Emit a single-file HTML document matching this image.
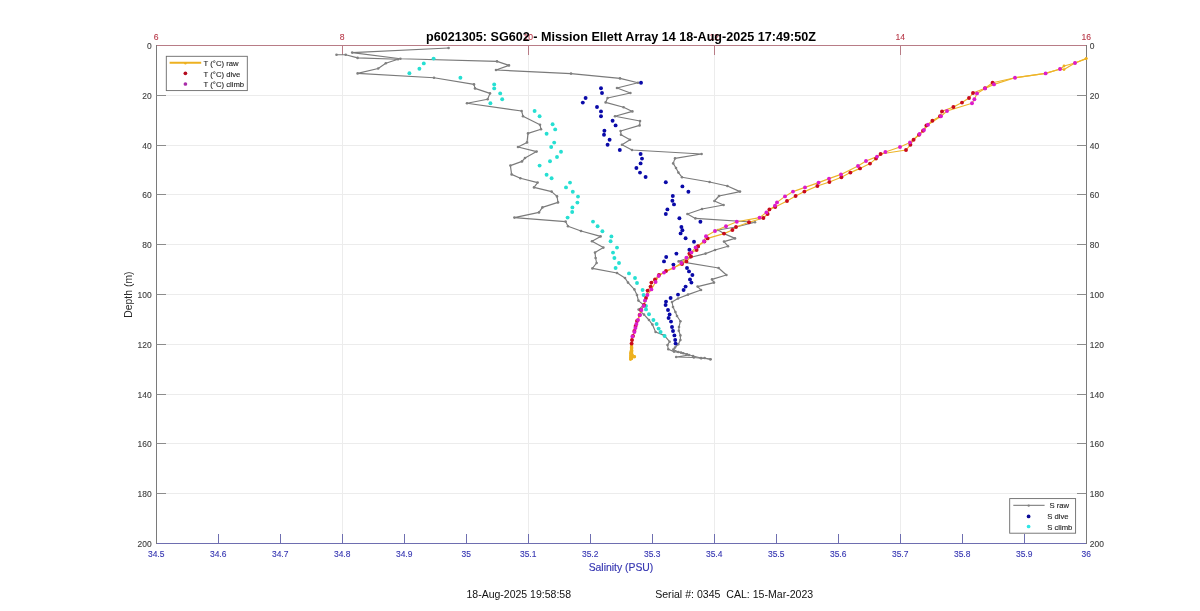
<!DOCTYPE html><html><head><meta charset="utf-8"><title>p6021305</title><style>html,body{margin:0;padding:0;background:#fff}svg{display:block}text{font-family:"Liberation Sans",Arial,sans-serif}</style></head><body>
<svg width="1200" height="611" viewBox="0 0 1200 611">
<rect width="1200" height="611" fill="#fff"/>
<g stroke="#ececec" stroke-width="1"><line x1="342.5" y1="45.5" x2="342.5" y2="543.5"/><line x1="528.5" y1="45.5" x2="528.5" y2="543.5"/><line x1="714.5" y1="45.5" x2="714.5" y2="543.5"/><line x1="900.5" y1="45.5" x2="900.5" y2="543.5"/><line x1="156.5" y1="95.5" x2="1086.5" y2="95.5"/><line x1="156.5" y1="145.5" x2="1086.5" y2="145.5"/><line x1="156.5" y1="194.5" x2="1086.5" y2="194.5"/><line x1="156.5" y1="244.5" x2="1086.5" y2="244.5"/><line x1="156.5" y1="294.5" x2="1086.5" y2="294.5"/><line x1="156.5" y1="344.5" x2="1086.5" y2="344.5"/><line x1="156.5" y1="394.5" x2="1086.5" y2="394.5"/><line x1="156.5" y1="443.5" x2="1086.5" y2="443.5"/><line x1="156.5" y1="493.5" x2="1086.5" y2="493.5"/></g>
<g stroke="#6e6eb0" stroke-width="1"><line x1="156.5" y1="543.5" x2="1086.5" y2="543.5"/><line x1="218.5" y1="543.5" x2="218.5" y2="534.0"/><line x1="280.5" y1="543.5" x2="280.5" y2="534.0"/><line x1="342.5" y1="543.5" x2="342.5" y2="534.0"/><line x1="404.5" y1="543.5" x2="404.5" y2="534.0"/><line x1="466.5" y1="543.5" x2="466.5" y2="534.0"/><line x1="528.5" y1="543.5" x2="528.5" y2="534.0"/><line x1="590.5" y1="543.5" x2="590.5" y2="534.0"/><line x1="652.5" y1="543.5" x2="652.5" y2="534.0"/><line x1="714.5" y1="543.5" x2="714.5" y2="534.0"/><line x1="776.5" y1="543.5" x2="776.5" y2="534.0"/><line x1="838.5" y1="543.5" x2="838.5" y2="534.0"/><line x1="900.5" y1="543.5" x2="900.5" y2="534.0"/><line x1="962.5" y1="543.5" x2="962.5" y2="534.0"/><line x1="1024.5" y1="543.5" x2="1024.5" y2="534.0"/></g><g stroke="#b87c86" stroke-width="1"><line x1="156.5" y1="45.5" x2="1086.5" y2="45.5"/><line x1="342.5" y1="45.5" x2="342.5" y2="55.0"/><line x1="528.5" y1="45.5" x2="528.5" y2="55.0"/><line x1="714.5" y1="45.5" x2="714.5" y2="55.0"/><line x1="900.5" y1="45.5" x2="900.5" y2="55.0"/></g><g stroke="#7a7a7a" stroke-width="1" fill="none"><line x1="156.5" y1="45.0" x2="156.5" y2="544.0"/><line x1="1086.5" y1="45.0" x2="1086.5" y2="544.0"/><line x1="156.5" y1="95.5" x2="166.0" y2="95.5" stroke="#8c8c8c"/><line x1="1086.5" y1="95.5" x2="1077.0" y2="95.5" stroke="#8c8c8c"/><line x1="156.5" y1="145.5" x2="166.0" y2="145.5" stroke="#8c8c8c"/><line x1="1086.5" y1="145.5" x2="1077.0" y2="145.5" stroke="#8c8c8c"/><line x1="156.5" y1="194.5" x2="166.0" y2="194.5" stroke="#8c8c8c"/><line x1="1086.5" y1="194.5" x2="1077.0" y2="194.5" stroke="#8c8c8c"/><line x1="156.5" y1="244.5" x2="166.0" y2="244.5" stroke="#8c8c8c"/><line x1="1086.5" y1="244.5" x2="1077.0" y2="244.5" stroke="#8c8c8c"/><line x1="156.5" y1="294.5" x2="166.0" y2="294.5" stroke="#8c8c8c"/><line x1="1086.5" y1="294.5" x2="1077.0" y2="294.5" stroke="#8c8c8c"/><line x1="156.5" y1="344.5" x2="166.0" y2="344.5" stroke="#8c8c8c"/><line x1="1086.5" y1="344.5" x2="1077.0" y2="344.5" stroke="#8c8c8c"/><line x1="156.5" y1="394.5" x2="166.0" y2="394.5" stroke="#8c8c8c"/><line x1="1086.5" y1="394.5" x2="1077.0" y2="394.5" stroke="#8c8c8c"/><line x1="156.5" y1="443.5" x2="166.0" y2="443.5" stroke="#8c8c8c"/><line x1="1086.5" y1="443.5" x2="1077.0" y2="443.5" stroke="#8c8c8c"/><line x1="156.5" y1="493.5" x2="166.0" y2="493.5" stroke="#8c8c8c"/><line x1="1086.5" y1="493.5" x2="1077.0" y2="493.5" stroke="#8c8c8c"/></g>
<g font-size="9" fill="#404040" stroke="#404040" stroke-width="0.12"><text x="151.6" y="48.8" text-anchor="end" textLength="4.7" lengthAdjust="spacingAndGlyphs">0</text><text x="1089.8" y="48.8" textLength="4.7" lengthAdjust="spacingAndGlyphs">0</text><text x="151.6" y="98.8" text-anchor="end" textLength="9.4" lengthAdjust="spacingAndGlyphs">20</text><text x="1089.8" y="98.8" textLength="9.4" lengthAdjust="spacingAndGlyphs">20</text><text x="151.6" y="148.8" text-anchor="end" textLength="9.4" lengthAdjust="spacingAndGlyphs">40</text><text x="1089.8" y="148.8" textLength="9.4" lengthAdjust="spacingAndGlyphs">40</text><text x="151.6" y="197.8" text-anchor="end" textLength="9.4" lengthAdjust="spacingAndGlyphs">60</text><text x="1089.8" y="197.8" textLength="9.4" lengthAdjust="spacingAndGlyphs">60</text><text x="151.6" y="247.8" text-anchor="end" textLength="9.4" lengthAdjust="spacingAndGlyphs">80</text><text x="1089.8" y="247.8" textLength="9.4" lengthAdjust="spacingAndGlyphs">80</text><text x="151.6" y="297.8" text-anchor="end" textLength="14.1" lengthAdjust="spacingAndGlyphs">100</text><text x="1089.8" y="297.8" textLength="14.1" lengthAdjust="spacingAndGlyphs">100</text><text x="151.6" y="347.8" text-anchor="end" textLength="14.1" lengthAdjust="spacingAndGlyphs">120</text><text x="1089.8" y="347.8" textLength="14.1" lengthAdjust="spacingAndGlyphs">120</text><text x="151.6" y="397.8" text-anchor="end" textLength="14.1" lengthAdjust="spacingAndGlyphs">140</text><text x="1089.8" y="397.8" textLength="14.1" lengthAdjust="spacingAndGlyphs">140</text><text x="151.6" y="446.8" text-anchor="end" textLength="14.1" lengthAdjust="spacingAndGlyphs">160</text><text x="1089.8" y="446.8" textLength="14.1" lengthAdjust="spacingAndGlyphs">160</text><text x="151.6" y="496.8" text-anchor="end" textLength="14.1" lengthAdjust="spacingAndGlyphs">180</text><text x="1089.8" y="496.8" textLength="14.1" lengthAdjust="spacingAndGlyphs">180</text><text x="151.6" y="546.8" text-anchor="end" textLength="14.1" lengthAdjust="spacingAndGlyphs">200</text><text x="1089.8" y="546.8" textLength="14.1" lengthAdjust="spacingAndGlyphs">200</text></g><g font-size="9" fill="#3636b2" stroke="#3636b2" stroke-width="0.12" text-anchor="middle"><text x="156.2" y="556.8" textLength="16.5" lengthAdjust="spacingAndGlyphs">34.5</text><text x="218.2" y="556.8" textLength="16.5" lengthAdjust="spacingAndGlyphs">34.6</text><text x="280.2" y="556.8" textLength="16.5" lengthAdjust="spacingAndGlyphs">34.7</text><text x="342.2" y="556.8" textLength="16.5" lengthAdjust="spacingAndGlyphs">34.8</text><text x="404.2" y="556.8" textLength="16.5" lengthAdjust="spacingAndGlyphs">34.9</text><text x="466.2" y="556.8" textLength="9.4" lengthAdjust="spacingAndGlyphs">35</text><text x="528.2" y="556.8" textLength="16.5" lengthAdjust="spacingAndGlyphs">35.1</text><text x="590.2" y="556.8" textLength="16.5" lengthAdjust="spacingAndGlyphs">35.2</text><text x="652.2" y="556.8" textLength="16.5" lengthAdjust="spacingAndGlyphs">35.3</text><text x="714.2" y="556.8" textLength="16.5" lengthAdjust="spacingAndGlyphs">35.4</text><text x="776.2" y="556.8" textLength="16.5" lengthAdjust="spacingAndGlyphs">35.5</text><text x="838.2" y="556.8" textLength="16.5" lengthAdjust="spacingAndGlyphs">35.6</text><text x="900.2" y="556.8" textLength="16.5" lengthAdjust="spacingAndGlyphs">35.7</text><text x="962.2" y="556.8" textLength="16.5" lengthAdjust="spacingAndGlyphs">35.8</text><text x="1024.2" y="556.8" textLength="16.5" lengthAdjust="spacingAndGlyphs">35.9</text><text x="1086.2" y="556.8" textLength="9.4" lengthAdjust="spacingAndGlyphs">36</text></g><g font-size="9.2" fill="#b83a4a" stroke="#b83a4a" stroke-width="0.12" text-anchor="middle"><text x="156.2" y="40" textLength="4.8" lengthAdjust="spacingAndGlyphs">6</text><text x="342.2" y="40" textLength="4.8" lengthAdjust="spacingAndGlyphs">8</text><text x="528.2" y="40" textLength="9.6" lengthAdjust="spacingAndGlyphs">10</text><text x="714.2" y="40" textLength="9.6" lengthAdjust="spacingAndGlyphs">12</text><text x="900.2" y="40" textLength="9.6" lengthAdjust="spacingAndGlyphs">14</text><text x="1086.2" y="40" textLength="9.6" lengthAdjust="spacingAndGlyphs">16</text></g>
<g fill="none" stroke="#7a7a7a" stroke-width="1.15" stroke-linejoin="round"><polyline points="448.6,48.0 352.2,52.6 400.4,58.8 497.0,61.4 509.0,65.4 496.0,70.0 571.0,73.6 620.0,78.4 638.0,82.8 617.0,88.0 630.4,93.0 607.6,98.0 605.6,102.4 623.6,107.2 632.4,111.4 615.0,116.2 640.0,121.0 639.6,125.4 620.6,131.0 621.0,134.8 630.0,139.8 622.0,144.8 632.0,150.0 701.6,154.0 675.0,158.4 673.2,163.4 676.0,168.0 678.4,172.6 682.0,177.2 709.6,182.0 727.4,186.0 740.0,191.6 719.0,196.0 714.4,201.0 723.6,205.0 702.0,209.0 687.4,214.0 695.4,218.4 755.0,222.2 736.0,227.0 718.0,230.0 724.0,233.6 735.0,238.4 724.0,241.6 728.0,246.2 715.0,250.0 705.6,253.6 690.0,257.5 678.6,261.4 718.6,268.0 726.4,275.0 712.0,279.4 714.0,282.6 697.6,286.6 701.0,290.0 688.0,294.6 678.0,298.5 672.0,302.0 673.0,307.0 675.4,312.0 677.0,316.0 680.4,321.2 679.0,327.0 678.8,330.8 680.4,335.4 680.4,340.0 678.3,344.2 675.0,347.5 673.3,349.6 678.3,352.0 683.3,353.3 689.0,355.0 676.2,357.0 693.8,357.5 701.2,358.3 704.6,358.0 710.4,359.3"/><polyline points="336.5,54.7 345.7,54.7 357.6,57.9 398.0,59.2 385.8,63.3 378.2,68.5 357.6,73.4 434.0,77.8 474.0,84.4 475.0,88.4 490.0,93.4 487.6,99.2 467.0,103.2 521.6,111.0 523.0,116.2 540.0,124.8 541.0,129.2 528.0,133.4 527.0,142.4 518.0,147.0 536.6,151.6 525.0,158.0 522.0,161.4 510.4,165.6 511.6,174.4 520.4,178.2 537.6,182.6 534.0,187.4 551.6,191.6 557.0,196.4 558.0,202.4 542.4,207.4 539.0,212.4 514.4,217.6 565.6,221.6 568.0,226.2 581.0,231.0 600.6,236.4 592.0,241.2 603.4,247.6 595.0,252.6 595.6,258.0 596.6,263.0 592.4,268.4 617.0,273.0 625.0,278.0 628.0,282.6 634.4,289.4 637.0,295.0 638.4,300.6 643.6,305.0 638.6,309.6 644.0,314.6 649.0,320.0 652.4,324.6 655.6,332.0 664.2,335.4 669.6,341.7 667.5,345.0 668.3,349.2 674.0,351.6 681.0,352.6 687.0,354.2 693.0,356.0 701.0,358.0 710.4,359.3"/></g>
<g fill="#808080"><circle cx="448.6" cy="48.0" r="1.3"/><circle cx="352.2" cy="52.6" r="1.3"/><circle cx="400.4" cy="58.8" r="1.3"/><circle cx="497.0" cy="61.4" r="1.3"/><circle cx="509.0" cy="65.4" r="1.3"/><circle cx="496.0" cy="70.0" r="1.3"/><circle cx="571.0" cy="73.6" r="1.3"/><circle cx="620.0" cy="78.4" r="1.3"/><circle cx="638.0" cy="82.8" r="1.3"/><circle cx="617.0" cy="88.0" r="1.3"/><circle cx="630.4" cy="93.0" r="1.3"/><circle cx="607.6" cy="98.0" r="1.3"/><circle cx="605.6" cy="102.4" r="1.3"/><circle cx="623.6" cy="107.2" r="1.3"/><circle cx="632.4" cy="111.4" r="1.3"/><circle cx="615.0" cy="116.2" r="1.3"/><circle cx="640.0" cy="121.0" r="1.3"/><circle cx="639.6" cy="125.4" r="1.3"/><circle cx="620.6" cy="131.0" r="1.3"/><circle cx="621.0" cy="134.8" r="1.3"/><circle cx="630.0" cy="139.8" r="1.3"/><circle cx="622.0" cy="144.8" r="1.3"/><circle cx="632.0" cy="150.0" r="1.3"/><circle cx="701.6" cy="154.0" r="1.3"/><circle cx="675.0" cy="158.4" r="1.3"/><circle cx="673.2" cy="163.4" r="1.3"/><circle cx="676.0" cy="168.0" r="1.3"/><circle cx="678.4" cy="172.6" r="1.3"/><circle cx="682.0" cy="177.2" r="1.3"/><circle cx="709.6" cy="182.0" r="1.3"/><circle cx="727.4" cy="186.0" r="1.3"/><circle cx="740.0" cy="191.6" r="1.3"/><circle cx="719.0" cy="196.0" r="1.3"/><circle cx="714.4" cy="201.0" r="1.3"/><circle cx="723.6" cy="205.0" r="1.3"/><circle cx="702.0" cy="209.0" r="1.3"/><circle cx="687.4" cy="214.0" r="1.3"/><circle cx="695.4" cy="218.4" r="1.3"/><circle cx="755.0" cy="222.2" r="1.3"/><circle cx="736.0" cy="227.0" r="1.3"/><circle cx="718.0" cy="230.0" r="1.3"/><circle cx="724.0" cy="233.6" r="1.3"/><circle cx="735.0" cy="238.4" r="1.3"/><circle cx="724.0" cy="241.6" r="1.3"/><circle cx="728.0" cy="246.2" r="1.3"/><circle cx="715.0" cy="250.0" r="1.3"/><circle cx="705.6" cy="253.6" r="1.3"/><circle cx="690.0" cy="257.5" r="1.3"/><circle cx="678.6" cy="261.4" r="1.3"/><circle cx="718.6" cy="268.0" r="1.3"/><circle cx="726.4" cy="275.0" r="1.3"/><circle cx="712.0" cy="279.4" r="1.3"/><circle cx="714.0" cy="282.6" r="1.3"/><circle cx="697.6" cy="286.6" r="1.3"/><circle cx="701.0" cy="290.0" r="1.3"/><circle cx="688.0" cy="294.6" r="1.3"/><circle cx="678.0" cy="298.5" r="1.3"/><circle cx="672.0" cy="302.0" r="1.3"/><circle cx="673.0" cy="307.0" r="1.3"/><circle cx="675.4" cy="312.0" r="1.3"/><circle cx="677.0" cy="316.0" r="1.3"/><circle cx="680.4" cy="321.2" r="1.3"/><circle cx="679.0" cy="327.0" r="1.3"/><circle cx="678.8" cy="330.8" r="1.3"/><circle cx="680.4" cy="335.4" r="1.3"/><circle cx="680.4" cy="340.0" r="1.3"/><circle cx="678.3" cy="344.2" r="1.3"/><circle cx="675.0" cy="347.5" r="1.3"/><circle cx="673.3" cy="349.6" r="1.3"/><circle cx="678.3" cy="352.0" r="1.3"/><circle cx="683.3" cy="353.3" r="1.3"/><circle cx="689.0" cy="355.0" r="1.3"/><circle cx="676.2" cy="357.0" r="1.3"/><circle cx="693.8" cy="357.5" r="1.3"/><circle cx="701.2" cy="358.3" r="1.3"/><circle cx="704.6" cy="358.0" r="1.3"/><circle cx="710.4" cy="359.3" r="1.3"/><circle cx="336.5" cy="54.7" r="1.3"/><circle cx="345.7" cy="54.7" r="1.3"/><circle cx="357.6" cy="57.9" r="1.3"/><circle cx="398.0" cy="59.2" r="1.3"/><circle cx="385.8" cy="63.3" r="1.3"/><circle cx="378.2" cy="68.5" r="1.3"/><circle cx="357.6" cy="73.4" r="1.3"/><circle cx="434.0" cy="77.8" r="1.3"/><circle cx="474.0" cy="84.4" r="1.3"/><circle cx="475.0" cy="88.4" r="1.3"/><circle cx="490.0" cy="93.4" r="1.3"/><circle cx="487.6" cy="99.2" r="1.3"/><circle cx="467.0" cy="103.2" r="1.3"/><circle cx="521.6" cy="111.0" r="1.3"/><circle cx="523.0" cy="116.2" r="1.3"/><circle cx="540.0" cy="124.8" r="1.3"/><circle cx="541.0" cy="129.2" r="1.3"/><circle cx="528.0" cy="133.4" r="1.3"/><circle cx="527.0" cy="142.4" r="1.3"/><circle cx="518.0" cy="147.0" r="1.3"/><circle cx="536.6" cy="151.6" r="1.3"/><circle cx="525.0" cy="158.0" r="1.3"/><circle cx="522.0" cy="161.4" r="1.3"/><circle cx="510.4" cy="165.6" r="1.3"/><circle cx="511.6" cy="174.4" r="1.3"/><circle cx="520.4" cy="178.2" r="1.3"/><circle cx="537.6" cy="182.6" r="1.3"/><circle cx="534.0" cy="187.4" r="1.3"/><circle cx="551.6" cy="191.6" r="1.3"/><circle cx="557.0" cy="196.4" r="1.3"/><circle cx="558.0" cy="202.4" r="1.3"/><circle cx="542.4" cy="207.4" r="1.3"/><circle cx="539.0" cy="212.4" r="1.3"/><circle cx="514.4" cy="217.6" r="1.3"/><circle cx="565.6" cy="221.6" r="1.3"/><circle cx="568.0" cy="226.2" r="1.3"/><circle cx="581.0" cy="231.0" r="1.3"/><circle cx="600.6" cy="236.4" r="1.3"/><circle cx="592.0" cy="241.2" r="1.3"/><circle cx="603.4" cy="247.6" r="1.3"/><circle cx="595.0" cy="252.6" r="1.3"/><circle cx="595.6" cy="258.0" r="1.3"/><circle cx="596.6" cy="263.0" r="1.3"/><circle cx="592.4" cy="268.4" r="1.3"/><circle cx="617.0" cy="273.0" r="1.3"/><circle cx="625.0" cy="278.0" r="1.3"/><circle cx="628.0" cy="282.6" r="1.3"/><circle cx="634.4" cy="289.4" r="1.3"/><circle cx="637.0" cy="295.0" r="1.3"/><circle cx="638.4" cy="300.6" r="1.3"/><circle cx="643.6" cy="305.0" r="1.3"/><circle cx="638.6" cy="309.6" r="1.3"/><circle cx="644.0" cy="314.6" r="1.3"/><circle cx="649.0" cy="320.0" r="1.3"/><circle cx="652.4" cy="324.6" r="1.3"/><circle cx="655.6" cy="332.0" r="1.3"/><circle cx="664.2" cy="335.4" r="1.3"/><circle cx="669.6" cy="341.7" r="1.3"/><circle cx="667.5" cy="345.0" r="1.3"/><circle cx="668.3" cy="349.2" r="1.3"/><circle cx="674.0" cy="351.6" r="1.3"/><circle cx="681.0" cy="352.6" r="1.3"/><circle cx="687.0" cy="354.2" r="1.3"/><circle cx="693.0" cy="356.0" r="1.3"/><circle cx="701.0" cy="358.0" r="1.3"/><circle cx="710.4" cy="359.3" r="1.3"/></g>
<g fill="#0a0aa8"><circle cx="641.0" cy="82.8" r="1.95"/><circle cx="601.0" cy="88.2" r="1.95"/><circle cx="602.0" cy="93.0" r="1.95"/><circle cx="585.6" cy="98.0" r="1.95"/><circle cx="582.8" cy="102.6" r="1.95"/><circle cx="597.0" cy="107.0" r="1.95"/><circle cx="601.0" cy="111.4" r="1.95"/><circle cx="601.0" cy="116.2" r="1.95"/><circle cx="612.6" cy="120.8" r="1.95"/><circle cx="615.6" cy="125.4" r="1.95"/><circle cx="604.4" cy="130.8" r="1.95"/><circle cx="604.0" cy="134.8" r="1.95"/><circle cx="609.6" cy="139.8" r="1.95"/><circle cx="607.6" cy="144.8" r="1.95"/><circle cx="619.8" cy="150.0" r="1.95"/><circle cx="640.6" cy="154.0" r="1.95"/><circle cx="642.0" cy="158.6" r="1.95"/><circle cx="640.6" cy="163.4" r="1.95"/><circle cx="636.4" cy="168.0" r="1.95"/><circle cx="640.0" cy="172.6" r="1.95"/><circle cx="645.6" cy="177.0" r="1.95"/><circle cx="665.8" cy="182.2" r="1.95"/><circle cx="682.4" cy="186.4" r="1.95"/><circle cx="688.4" cy="191.8" r="1.95"/><circle cx="672.8" cy="196.0" r="1.95"/><circle cx="672.4" cy="200.8" r="1.95"/><circle cx="674.0" cy="204.4" r="1.95"/><circle cx="667.4" cy="209.4" r="1.95"/><circle cx="665.8" cy="214.0" r="1.95"/><circle cx="679.4" cy="218.2" r="1.95"/><circle cx="700.4" cy="221.8" r="1.95"/><circle cx="681.4" cy="227.0" r="1.95"/><circle cx="682.4" cy="230.2" r="1.95"/><circle cx="680.6" cy="233.4" r="1.95"/><circle cx="685.6" cy="238.2" r="1.95"/><circle cx="694.0" cy="241.8" r="1.95"/><circle cx="698.0" cy="246.4" r="1.95"/><circle cx="689.4" cy="249.8" r="1.95"/><circle cx="676.4" cy="253.6" r="1.95"/><circle cx="666.2" cy="257.0" r="1.95"/><circle cx="664.0" cy="261.4" r="1.95"/><circle cx="673.4" cy="264.6" r="1.95"/><circle cx="687.0" cy="268.0" r="1.95"/><circle cx="689.0" cy="271.4" r="1.95"/><circle cx="692.4" cy="275.0" r="1.95"/><circle cx="690.0" cy="279.4" r="1.95"/><circle cx="691.4" cy="282.6" r="1.95"/><circle cx="685.6" cy="286.6" r="1.95"/><circle cx="683.6" cy="290.0" r="1.95"/><circle cx="678.0" cy="294.6" r="1.95"/><circle cx="670.6" cy="298.0" r="1.95"/><circle cx="666.0" cy="301.6" r="1.95"/><circle cx="665.6" cy="305.0" r="1.95"/><circle cx="668.0" cy="310.0" r="1.95"/><circle cx="669.6" cy="314.4" r="1.95"/><circle cx="668.6" cy="318.0" r="1.95"/><circle cx="671.0" cy="321.6" r="1.95"/><circle cx="672.0" cy="327.0" r="1.95"/><circle cx="673.0" cy="331.0" r="1.95"/><circle cx="674.4" cy="335.4" r="1.95"/><circle cx="675.2" cy="340.0" r="1.95"/><circle cx="675.6" cy="343.6" r="1.95"/></g>
<g fill="#26dfd2"><circle cx="433.6" cy="58.6" r="1.95"/><circle cx="423.8" cy="63.4" r="1.95"/><circle cx="419.4" cy="68.8" r="1.95"/><circle cx="409.4" cy="73.2" r="1.95"/><circle cx="460.4" cy="77.8" r="1.95"/><circle cx="494.2" cy="84.4" r="1.95"/><circle cx="494.2" cy="88.4" r="1.95"/><circle cx="500.2" cy="93.4" r="1.95"/><circle cx="502.2" cy="99.2" r="1.95"/><circle cx="490.4" cy="103.2" r="1.95"/><circle cx="534.6" cy="111.0" r="1.95"/><circle cx="539.6" cy="116.2" r="1.95"/><circle cx="552.6" cy="124.2" r="1.95"/><circle cx="555.2" cy="129.4" r="1.95"/><circle cx="546.6" cy="133.8" r="1.95"/><circle cx="554.2" cy="142.6" r="1.95"/><circle cx="551.2" cy="147.0" r="1.95"/><circle cx="561.0" cy="151.8" r="1.95"/><circle cx="557.0" cy="157.0" r="1.95"/><circle cx="550.0" cy="161.2" r="1.95"/><circle cx="539.6" cy="165.6" r="1.95"/><circle cx="546.6" cy="174.8" r="1.95"/><circle cx="551.6" cy="178.2" r="1.95"/><circle cx="570.0" cy="182.6" r="1.95"/><circle cx="566.0" cy="187.4" r="1.95"/><circle cx="572.8" cy="191.8" r="1.95"/><circle cx="578.0" cy="196.6" r="1.95"/><circle cx="577.4" cy="202.6" r="1.95"/><circle cx="572.4" cy="207.4" r="1.95"/><circle cx="572.2" cy="212.0" r="1.95"/><circle cx="567.6" cy="217.6" r="1.95"/><circle cx="593.0" cy="221.6" r="1.95"/><circle cx="597.6" cy="226.2" r="1.95"/><circle cx="602.4" cy="231.2" r="1.95"/><circle cx="611.4" cy="236.4" r="1.95"/><circle cx="610.6" cy="241.2" r="1.95"/><circle cx="617.0" cy="247.6" r="1.95"/><circle cx="613.0" cy="252.6" r="1.95"/><circle cx="614.4" cy="258.0" r="1.95"/><circle cx="619.0" cy="263.0" r="1.95"/><circle cx="615.6" cy="268.0" r="1.95"/><circle cx="629.0" cy="273.4" r="1.95"/><circle cx="635.0" cy="278.0" r="1.95"/><circle cx="637.0" cy="283.0" r="1.95"/><circle cx="642.6" cy="290.0" r="1.95"/><circle cx="643.6" cy="295.0" r="1.95"/><circle cx="645.0" cy="300.6" r="1.95"/><circle cx="646.0" cy="306.0" r="1.95"/><circle cx="646.0" cy="309.4" r="1.95"/><circle cx="649.0" cy="314.2" r="1.95"/><circle cx="653.4" cy="320.0" r="1.95"/><circle cx="656.6" cy="324.0" r="1.95"/><circle cx="658.6" cy="328.6" r="1.95"/><circle cx="660.6" cy="332.0" r="1.95"/><circle cx="664.6" cy="336.0" r="1.95"/></g>
<g fill="none" stroke="#edb428" stroke-width="1.15" stroke-linejoin="round"><polyline points="1086.2,58.6 1075.0,63.0 1064.0,66.0 1060.5,69.0 1045.6,73.4 1015.0,77.8 992.6,82.8 985.0,88.2 973.0,93.0 969.0,98.0 962.0,102.6 953.4,107.0 942.0,111.4 940.0,116.2 932.4,120.8 926.4,125.4 923.0,130.8 919.0,134.8 913.6,139.8 910.4,144.8 906.0,150.0 880.6,154.0 876.0,158.6 870.0,163.6 860.0,168.4 850.4,172.6 841.4,177.2 829.4,182.0 817.4,186.0 804.4,191.6 795.6,196.0 787.0,201.0 775.2,207.0 769.4,209.4 767.6,214.0 763.4,218.0 749.0,222.2 736.0,227.0 732.4,230.0 724.0,233.6 707.6,238.4 704.4,241.6 698.0,246.2 696.6,250.0 689.4,253.6 691.0,256.5 686.4,261.4 682.0,264.0 666.0,271.0 659.0,275.0 655.0,279.4 651.4,282.6 650.6,286.6 647.6,290.6 646.0,298.0 644.0,305.0 641.0,310.0 639.6,315.0 637.0,321.0 635.6,326.0 634.4,331.0 633.0,336.0 632.0,340.0 631.6,343.6 631.5,347.0 631.2,350.0 630.9,353.0 630.6,356.0 630.4,359.5"/><polyline points="1086.2,58.6 1075.0,63.0 1064.0,69.6 1060.0,69.0 1045.6,73.4 1015.0,77.8 994.0,84.4 985.0,88.4 977.0,93.4 974.4,99.2 972.0,103.2 947.0,111.0 941.0,116.2 928.0,124.8 924.0,130.0 919.6,134.0 910.0,142.4 900.0,147.0 885.4,152.0 877.0,156.6 866.0,161.0 858.0,166.0 841.0,174.4 829.0,178.6 818.6,182.6 805.0,187.4 793.0,191.6 785.0,196.4 777.0,202.4 775.0,205.6 766.4,212.4 759.6,217.6 736.8,221.8 726.0,226.2 715.0,231.0 706.0,236.2 704.0,241.2 695.6,247.4 691.4,252.4 686.4,257.8 681.4,263.0 673.6,268.0 664.0,272.6 658.6,276.0 655.6,282.0 651.4,289.4 647.4,295.0 645.0,300.6 643.6,306.0 641.4,310.0 640.0,315.0 638.0,320.0 636.4,324.0 635.4,328.0 634.4,332.0 632.4,336.4 632.0,340.0 631.8,344.0 631.6,348.0 631.4,352.0 634.6,356.7 630.8,358.0"/></g>
<g fill="#edb120"><circle cx="1086.2" cy="58.6" r="1.4"/><circle cx="1075.0" cy="63.0" r="1.4"/><circle cx="1064.0" cy="66.0" r="1.4"/><circle cx="1060.5" cy="69.0" r="1.4"/><circle cx="1045.6" cy="73.4" r="1.4"/><circle cx="1015.0" cy="77.8" r="1.4"/><circle cx="631.5" cy="347.0" r="1.4"/><circle cx="631.2" cy="350.0" r="1.4"/><circle cx="630.9" cy="353.0" r="1.4"/><circle cx="630.6" cy="356.0" r="1.4"/><circle cx="630.4" cy="359.5" r="1.4"/><circle cx="1086.2" cy="58.6" r="1.4"/><circle cx="1075.0" cy="63.0" r="1.4"/><circle cx="1064.0" cy="69.6" r="1.4"/><circle cx="1060.0" cy="69.0" r="1.4"/><circle cx="632.0" cy="340.0" r="1.4"/><circle cx="631.8" cy="344.0" r="1.4"/><circle cx="631.6" cy="348.0" r="1.4"/><circle cx="631.4" cy="352.0" r="1.4"/><circle cx="634.6" cy="356.7" r="1.4"/><circle cx="630.8" cy="358.0" r="1.4"/></g>
<g fill="#edb120"><circle cx="631.6" cy="346.0" r="1.7"/><circle cx="631.6" cy="347.4" r="1.7"/><circle cx="631.6" cy="348.8" r="1.7"/><circle cx="631.6" cy="350.2" r="1.7"/><circle cx="631.6" cy="351.6" r="1.7"/><circle cx="631.6" cy="353.0" r="1.7"/><circle cx="631.6" cy="354.4" r="1.7"/><circle cx="631.6" cy="355.8" r="1.7"/><circle cx="631.6" cy="357.2" r="1.7"/><circle cx="631.6" cy="358.6" r="1.7"/><circle cx="631.0" cy="352.0" r="1.7"/><circle cx="631.0" cy="353.3" r="1.7"/><circle cx="631.0" cy="354.6" r="1.7"/><circle cx="631.0" cy="355.9" r="1.7"/><circle cx="631.0" cy="357.2" r="1.7"/><circle cx="631.0" cy="358.5" r="1.7"/><circle cx="634.4" cy="356.8" r="1.7"/></g>
<g fill="#c80a1e"><circle cx="992.6" cy="82.8" r="1.95"/><circle cx="985.0" cy="88.2" r="1.95"/><circle cx="973.0" cy="93.0" r="1.95"/><circle cx="969.0" cy="98.0" r="1.95"/><circle cx="962.0" cy="102.6" r="1.95"/><circle cx="953.4" cy="107.0" r="1.95"/><circle cx="942.0" cy="111.4" r="1.95"/><circle cx="940.0" cy="116.2" r="1.95"/><circle cx="932.4" cy="120.8" r="1.95"/><circle cx="926.4" cy="125.4" r="1.95"/><circle cx="923.0" cy="130.8" r="1.95"/><circle cx="919.0" cy="134.8" r="1.95"/><circle cx="913.6" cy="139.8" r="1.95"/><circle cx="910.4" cy="144.8" r="1.95"/><circle cx="906.0" cy="150.0" r="1.95"/><circle cx="880.6" cy="154.0" r="1.95"/><circle cx="876.0" cy="158.6" r="1.95"/><circle cx="870.0" cy="163.6" r="1.95"/><circle cx="860.0" cy="168.4" r="1.95"/><circle cx="850.4" cy="172.6" r="1.95"/><circle cx="841.4" cy="177.2" r="1.95"/><circle cx="829.4" cy="182.0" r="1.95"/><circle cx="817.4" cy="186.0" r="1.95"/><circle cx="804.4" cy="191.6" r="1.95"/><circle cx="795.6" cy="196.0" r="1.95"/><circle cx="787.0" cy="201.0" r="1.95"/><circle cx="775.2" cy="207.0" r="1.95"/><circle cx="769.4" cy="209.4" r="1.95"/><circle cx="767.6" cy="214.0" r="1.95"/><circle cx="763.4" cy="218.0" r="1.95"/><circle cx="749.0" cy="222.2" r="1.95"/><circle cx="736.0" cy="227.0" r="1.95"/><circle cx="732.4" cy="230.0" r="1.95"/><circle cx="724.0" cy="233.6" r="1.95"/><circle cx="707.6" cy="238.4" r="1.95"/><circle cx="704.4" cy="241.6" r="1.95"/><circle cx="698.0" cy="246.2" r="1.95"/><circle cx="696.6" cy="250.0" r="1.95"/><circle cx="689.4" cy="253.6" r="1.95"/><circle cx="691.0" cy="256.5" r="1.95"/><circle cx="686.4" cy="261.4" r="1.95"/><circle cx="682.0" cy="264.0" r="1.95"/><circle cx="666.0" cy="271.0" r="1.95"/><circle cx="659.0" cy="275.0" r="1.95"/><circle cx="655.0" cy="279.4" r="1.95"/><circle cx="651.4" cy="282.6" r="1.95"/><circle cx="650.6" cy="286.6" r="1.95"/><circle cx="647.6" cy="290.6" r="1.95"/><circle cx="646.0" cy="298.0" r="1.95"/><circle cx="644.0" cy="305.0" r="1.95"/><circle cx="641.0" cy="310.0" r="1.95"/><circle cx="639.6" cy="315.0" r="1.95"/><circle cx="637.0" cy="321.0" r="1.95"/><circle cx="635.6" cy="326.0" r="1.95"/><circle cx="634.4" cy="331.0" r="1.95"/><circle cx="633.0" cy="336.0" r="1.95"/><circle cx="632.0" cy="340.0" r="1.95"/><circle cx="631.6" cy="343.6" r="1.95"/></g>
<g fill="#dc1ccc"><circle cx="1075.0" cy="63.0" r="1.95"/><circle cx="1060.0" cy="69.0" r="1.95"/><circle cx="1045.6" cy="73.4" r="1.95"/><circle cx="1015.0" cy="77.8" r="1.95"/><circle cx="994.0" cy="84.4" r="1.95"/><circle cx="985.0" cy="88.4" r="1.95"/><circle cx="977.0" cy="93.4" r="1.95"/><circle cx="974.4" cy="99.2" r="1.95"/><circle cx="972.0" cy="103.2" r="1.95"/><circle cx="947.0" cy="111.0" r="1.95"/><circle cx="941.0" cy="116.2" r="1.95"/><circle cx="928.0" cy="124.8" r="1.95"/><circle cx="924.0" cy="130.0" r="1.95"/><circle cx="919.6" cy="134.0" r="1.95"/><circle cx="910.0" cy="142.4" r="1.95"/><circle cx="900.0" cy="147.0" r="1.95"/><circle cx="885.4" cy="152.0" r="1.95"/><circle cx="877.0" cy="156.6" r="1.95"/><circle cx="866.0" cy="161.0" r="1.95"/><circle cx="858.0" cy="166.0" r="1.95"/><circle cx="841.0" cy="174.4" r="1.95"/><circle cx="829.0" cy="178.6" r="1.95"/><circle cx="818.6" cy="182.6" r="1.95"/><circle cx="805.0" cy="187.4" r="1.95"/><circle cx="793.0" cy="191.6" r="1.95"/><circle cx="785.0" cy="196.4" r="1.95"/><circle cx="777.0" cy="202.4" r="1.95"/><circle cx="775.0" cy="205.6" r="1.95"/><circle cx="766.4" cy="212.4" r="1.95"/><circle cx="759.6" cy="217.6" r="1.95"/><circle cx="736.8" cy="221.8" r="1.95"/><circle cx="726.0" cy="226.2" r="1.95"/><circle cx="715.0" cy="231.0" r="1.95"/><circle cx="706.0" cy="236.2" r="1.95"/><circle cx="704.0" cy="241.2" r="1.95"/><circle cx="695.6" cy="247.4" r="1.95"/><circle cx="691.4" cy="252.4" r="1.95"/><circle cx="686.4" cy="257.8" r="1.95"/><circle cx="681.4" cy="263.0" r="1.95"/><circle cx="673.6" cy="268.0" r="1.95"/><circle cx="664.0" cy="272.6" r="1.95"/><circle cx="658.6" cy="276.0" r="1.95"/><circle cx="655.6" cy="282.0" r="1.95"/><circle cx="651.4" cy="289.4" r="1.95"/><circle cx="647.4" cy="295.0" r="1.95"/><circle cx="645.0" cy="300.6" r="1.95"/><circle cx="643.6" cy="306.0" r="1.95"/><circle cx="641.4" cy="310.0" r="1.95"/><circle cx="640.0" cy="315.0" r="1.95"/><circle cx="638.0" cy="320.0" r="1.95"/><circle cx="636.4" cy="324.0" r="1.95"/><circle cx="635.4" cy="328.0" r="1.95"/><circle cx="634.4" cy="332.0" r="1.95"/><circle cx="632.4" cy="336.4" r="1.95"/></g>
<rect x="166.3" y="56.3" width="81" height="34.3" fill="#fff" stroke="#6a6a6a" stroke-width="0.9"/>
<line x1="169.6" y1="62.8" x2="201.2" y2="62.8" stroke="#edb120" stroke-width="2"/><circle cx="185.4" cy="63.3" r="1.2" fill="#edb120"/>
<circle cx="185.4" cy="73.3" r="1.85" fill="#b40a1e"/><circle cx="185.4" cy="84" r="1.85" fill="#a82ca8"/>
<g font-size="7.7" fill="#262626" stroke="#262626" stroke-width="0.12"><text x="203.6" y="65.8">T (°C) raw</text><text x="203.6" y="76.6">T (°C) dive</text><text x="203.6" y="87.1">T (°C) climb</text></g>
<rect x="1009.7" y="498.6" width="65.9" height="34.6" fill="#fff" stroke="#6a6a6a" stroke-width="0.9"/>
<line x1="1013.3" y1="505.3" x2="1044.6" y2="505.3" stroke="#707070" stroke-width="1"/><circle cx="1028.7" cy="505.6" r="1.2" fill="#808080"/>
<circle cx="1028.6" cy="516.4" r="1.85" fill="#0a0a96"/><circle cx="1028.6" cy="526.5" r="1.85" fill="#2ee6e6"/>
<g font-size="7.7" fill="#262626" stroke="#262626" stroke-width="0.12"><text x="1049.5" y="508.4">S raw</text><text x="1047.2" y="519">S dive</text><text x="1047.2" y="529.6">S climb</text></g>
<text x="621" y="41.3" font-size="12.6" font-weight="bold" textLength="390" lengthAdjust="spacingAndGlyphs" fill="#000" text-anchor="middle">p6021305: SG602 - Mission Ellett Array 14 18-Aug-2025 17:49:50Z</text>
<text x="621" y="570.8" font-size="10.4" fill="#3636b2" stroke="#3636b2" stroke-width="0.15" text-anchor="middle">Salinity (PSU)</text>
<text transform="translate(131.8,294.6) rotate(-90)" font-size="10.4" fill="#262626" text-anchor="middle">Depth (m)</text>
<text x="466.5" y="597.7" font-size="10.5" fill="#111" textLength="104.5" lengthAdjust="spacingAndGlyphs">18-Aug-2025 19:58:58</text>
<text x="655.2" y="597.7" font-size="10.5" fill="#111" xml:space="preserve" textLength="158" lengthAdjust="spacingAndGlyphs">Serial #: 0345  CAL: 15-Mar-2023</text>
</svg></body></html>
